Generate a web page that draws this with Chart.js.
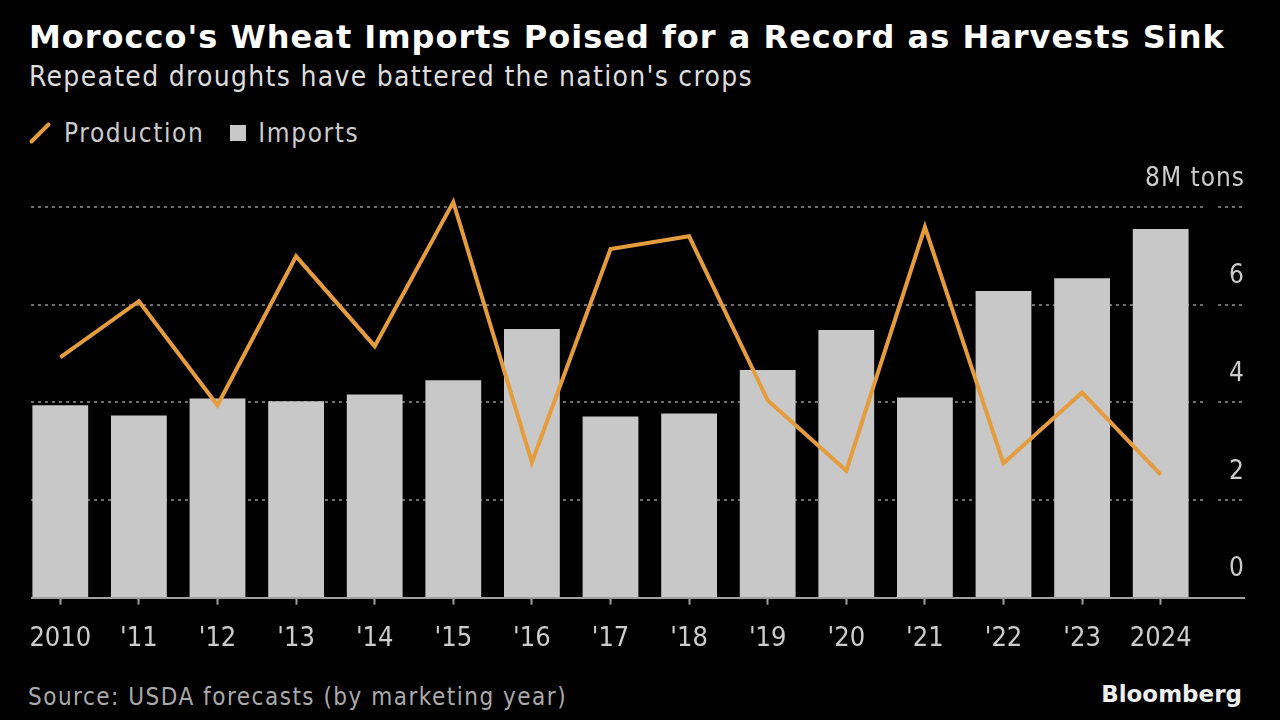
<!DOCTYPE html>
<html lang="en">
<head>
    <meta charset="UTF-8">
    <title>Morocco's Wheat Imports</title>
    <style>
        body {
            margin: 0;
            width: 1280px;
            height: 720px;
            background: #000;
            overflow: hidden;
            position: relative;
            font-family: "DejaVu Sans Condensed", "DejaVu Sans", sans-serif;
        }
        .title {
            position: absolute;
            left: 29px;
            top: 18px;
            font-family: "DejaVu Sans", sans-serif;
            font-weight: bold;
            font-size: 32px;
            letter-spacing: 1px;
            color: #fff;
            white-space: nowrap;
        }
        .subtitle {
            position: absolute;
            left: 29px;
            top: 60px;
            font-size: 28px;
            letter-spacing: 1.3px;
            color: #ddd;
            white-space: nowrap;
        }
        .legend {
            position: absolute;
            left: 30px;
            top: 118px;
            font-size: 26px;
            letter-spacing: 1.6px;
            color: #ccc;
            display: flex;
            align-items: center;
        }
        .swatch-line {
            display: inline-block;
            width: 4px;
            height: 28px;
            background: #e59c3c;
            transform: rotate(45deg);
            margin: 0 22px 0 8px;
            border-radius: 2px;
        }
        .swatch-box {
            display: inline-block;
            width: 16px;
            height: 16px;
            background: #c8c8c8;
            margin: 0 12px 0 26px;
        }
        .source {
            position: absolute;
            left: 28px;
            top: 683px;
            font-size: 24px;
            letter-spacing: 1.5px;
            color: #aaa;
        }
        .brand {
            position: absolute;
            right: 38px;
            top: 681px;
            font-family: "DejaVu Sans", sans-serif;
            font-weight: bold;
            font-size: 23px;
            color: #eee;
        }
        #chart {
            position: absolute;
            left: 0;
            top: 160px;
        }
    </style>
</head>
<body>
    <div class="title">Morocco's Wheat Imports Poised for a Record as Harvests Sink</div>
    <div class="subtitle">Repeated droughts have battered the nation's crops</div>
    <div class="legend">
        <span class="swatch-line"></span>Production
        <span class="swatch-box"></span>Imports
    </div>
    <canvas id="chart" width="1280" height="514"></canvas>
    <div class="source">Source: USDA forecasts (by marketing year)</div>
    <div class="brand">Bloomberg</div>

    <script src="https://cdn.jsdelivr.net/npm/chart.js"></script>
    <script>
        const years = ['2010', "'11", "'12", "'13", "'14", "'15", "'16", "'17", "'18", "'19", "'20", "'21", "'22", "'23", '2024'];
        const imports = [3.94, 3.73, 4.08, 4.02, 4.16, 4.45, 5.5, 3.71, 3.77, 4.66, 5.48, 4.1, 6.28, 6.54, 7.55];
        const production = [4.92, 6.07, 3.94, 6.99, 5.15, 8.1, 2.77, 7.14, 7.4, 4.04, 2.6, 7.59, 2.75, 4.2, 2.52];
        const yTicks = [0, 2, 4, 6, 8];
        const yTickLabels = ['0', '2', '4', '6', '8M tons'];

        const fontFamily = '"DejaVu Sans Condensed", "DejaVu Sans", sans-serif';

        // dotted gridlines, axis line and right-hand labels, drawn from the y scale
        const gridPlugin = {
            id: 'gridPlugin',
            beforeDatasetsDraw(chart) {
                const ctx = chart.ctx;
                const y = chart.scales.y;
                ctx.save();
                ctx.strokeStyle = '#6e6e6e';
                ctx.lineWidth = 2;
                ctx.setLineDash([3, 4]);
                yTicks.forEach(v => {
                    if (v === 0) return;
                    const py = Math.round(y.getPixelForValue(v));
                    ctx.beginPath();
                    ctx.moveTo(31, py);
                    ctx.lineTo(1203, py);
                    ctx.moveTo(1218, py);
                    ctx.lineTo(1245, py);
                    ctx.stroke();
                });
                ctx.restore();
            },
            afterDatasetsDraw(chart) {
                const ctx = chart.ctx;
                const y = chart.scales.y;
                ctx.save();
                const py0 = Math.round(y.getPixelForValue(0));
                ctx.strokeStyle = '#a0a0a0';
                ctx.lineWidth = 2;
                ctx.beginPath();
                ctx.moveTo(31, py0);
                ctx.lineTo(1245, py0);
                ctx.stroke();

                ctx.fillStyle = '#cccccc';
                ctx.font = '26px ' + fontFamily;
                ctx.letterSpacing = '1px';
                ctx.textAlign = 'right';
                ctx.textBaseline = 'middle';
                yTicks.forEach((v, i) => {
                    ctx.fillText(yTickLabels[i], 1245, y.getPixelForValue(v) - 28);
                });
                ctx.restore();
            }
        };

        new Chart(document.getElementById('chart'), {
            data: {
                labels: years,
                datasets: [{
                    type: 'line',
                    label: 'Production',
                    data: production,
                    borderColor: '#e59c3c',
                    borderWidth: 4,
                    pointRadius: 0,
                    tension: 0,
                    clip: false,
                    order: 0
                }, {
                    type: 'bar',
                    label: 'Imports',
                    data: imports,
                    backgroundColor: '#c8c8c8',
                    categoryPercentage: 1,
                    barPercentage: 0.71,
                    order: 1
                }]
            },
            options: {
                responsive: false,
                animation: false,
                layout: {
                    padding: { top: 47, left: 21, right: 80, bottom: 1 }
                },
                plugins: {
                    legend: { display: false },
                    tooltip: { enabled: false }
                },
                scales: {
                    x: {
                        offset: true,
                        border: { display: false },
                        grid: {
                            offset: false,
                            drawOnChartArea: false,
                            drawTicks: true,
                            tickLength: 7,
                            tickWidth: 2,
                            color: '#a0a0a0'
                        },
                        ticks: {
                            color: '#cccccc',
                            font: { family: fontFamily, size: 27 },
                            padding: 18,
                            maxRotation: 0,
                            autoSkip: false
                        }
                    },
                    y: {
                        display: false,
                        min: 0,
                        max: 8
                    }
                }
            },
            plugins: [gridPlugin]
        });
    </script>
</body>
</html>
